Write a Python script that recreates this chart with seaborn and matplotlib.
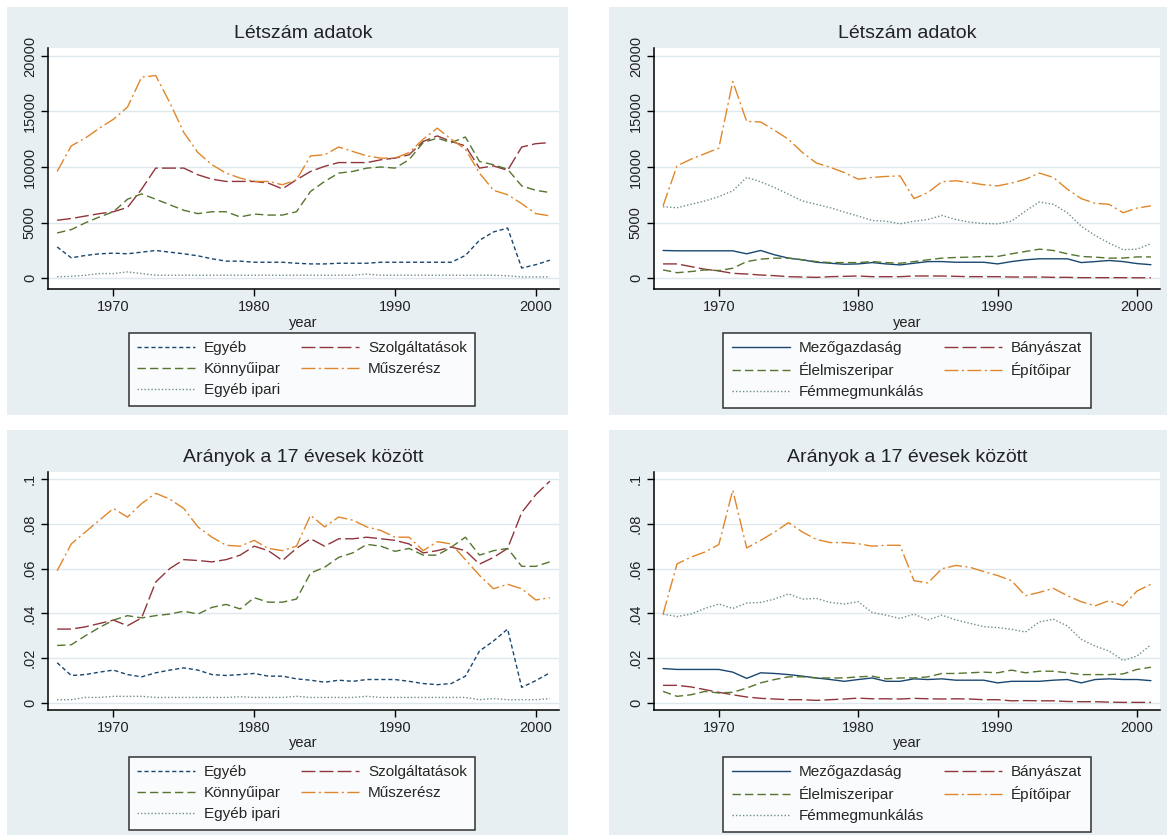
import matplotlib
matplotlib.use("Agg")
import matplotlib.pyplot as plt
import seaborn as sns
import pandas as pd
from matplotlib.lines import Line2D
from matplotlib.patches import Rectangle
from matplotlib import font_manager

# ---- data ----
years = list(range(1966, 2002))

names_left = ["Egyéb", "Szolgáltatások", "Könnyűipar", "Műszerész", "Egyéb ipari"]
names_right = ["Mezőgazdaság", "Bányászat", "Élelmiszeripar", "Építőipar", "Fémmegmunkálás"]

# headcounts, left group
egyeb_n = [2800, 1820, 2030, 2180, 2240, 2180, 2330, 2480, 2330, 2180,
           2000, 1730, 1520, 1520, 1420, 1420, 1420, 1330, 1270, 1270,
           1330, 1330, 1330, 1420, 1420, 1420, 1420, 1420, 1420, 2030,
           3400, 4150, 4500, 900, 1200, 1600]
szolg_n = [5200, 5360, 5580, 5800, 5970, 6360, 8000, 9900, 9900, 9900,
           9300, 8900, 8700, 8700, 8700, 8550, 8030, 8850, 9600, 10060,
           10400, 10400, 10400, 10650, 10800, 11100, 12300, 12800, 12300, 11900,
           9900, 10100, 9700, 11800, 12100, 12200]
konnyu_n = [4060, 4360, 4970, 5500, 5970, 7100, 7580, 7100, 6600, 6100,
            5800, 5970, 5970, 5500, 5760, 5670, 5670, 5970, 7800, 8700,
            9450, 9600, 9900, 10000, 9900, 10660, 12200, 12600, 12200, 12700,
            10500, 10200, 9800, 8300, 7900, 7700]
muszer_n = [9600, 11900, 12600, 13500, 14300, 15400, 18100, 18240, 15800, 13100,
            11300, 10200, 9450, 9000, 8700, 8700, 8400, 8850, 11000, 11100,
            11800, 11400, 11000, 10800, 10800, 11300, 12500, 13500, 12500, 11600,
            9450, 7900, 7500, 6700, 5800, 5600]
egyip_n = [120, 150, 250, 400, 400, 550, 400, 250, 250, 250,
           250, 250, 250, 250, 250, 250, 250, 250, 250, 250,
           250, 250, 350, 250, 250, 250, 250, 250, 250, 250,
           250, 250, 200, 100, 100, 100]

# headcounts, right group
mezo_n = [2480, 2450, 2450, 2450, 2450, 2450, 2180, 2480, 2090, 1790,
          1640, 1420, 1330, 1240, 1270, 1390, 1270, 1180, 1330, 1480,
          1480, 1420, 1420, 1420, 1270, 1480, 1640, 1730, 1730, 1730,
          1390, 1480, 1580, 1480, 1300, 1200]
banya_n = [1270, 1270, 1030, 790, 640, 420, 360, 270, 210, 120,
           90, 60, 120, 150, 180, 120, 120, 120, 180, 180,
           180, 150, 120, 120, 120, 90, 90, 90, 60, 60,
           30, 30, 30, 30, 20, 20]
elelm_n = [730, 480, 580, 730, 670, 880, 1480, 1700, 1790, 1790,
           1640, 1480, 1390, 1390, 1390, 1480, 1390, 1330, 1480, 1640,
           1790, 1850, 1880, 1940, 1940, 2180, 2390, 2600, 2480, 2180,
           1940, 1880, 1790, 1800, 1900, 1900]
epito_n = [6500, 10100, 10700, 11200, 11700, 17700, 14100, 14060, 13300, 12500,
           11300, 10360, 9970, 9500, 8900, 9060, 9150, 9200, 7150, 7700,
           8670, 8760, 8600, 8400, 8300, 8550, 8900, 9450, 9060, 8000,
           7150, 6730, 6640, 5880, 6300, 6500]
femm_n = [6420, 6330, 6640, 6940, 7330, 7850, 9060, 8670, 8150, 7540,
          6940, 6640, 6330, 5940, 5580, 5180, 5120, 4880, 5120, 5270,
          5640, 5270, 5030, 4910, 4880, 5120, 6030, 6850, 6640, 5880,
          4670, 3820, 3150, 2550, 2600, 3100]

# shares among 17-year-olds, left group
egyeb_s = [.018, .0123, .0127, .0138, .0147, .0127, .0117, .0135, .0147, .0157,
           .0147, .0127, .0123, .0127, .0132, .012, .012, .0108, .0102, .0093,
           .0102, .0097, .0105, .0105, .0105, .0097, .0087, .0082, .0087, .012,
           .0232, .0277, .033, .007, .010, .0135]
szolg_s = [.033, .033, .034, .0355, .037, .0345, .038, .054, .060, .064,
           .0636, .063, .064, .066, .070, .068, .0636, .069, .0733, .070,
           .0733, .0733, .074, .0733, .0726, .071, .067, .068, .0696, .068,
           .062, .065, .069, .085, .093, .099]
konnyu_s = [.0257, .026, .030, .0337, .037, .039, .038, .039, .0397, .041,
            .0397, .0427, .044, .042, .047, .045, .045, .0464, .058, .0606,
            .065, .067, .0708, .070, .0677, .069, .066, .066, .0696, .074,
            .066, .068, .069, .061, .061, .063]
muszer_s = [.059, .071, .0763, .0816, .0868, .083, .089, .0936, .091, .0868,
            .0786, .074, .0704, .070, .0726, .069, .068, .070, .0838, .0786,
            .083, .0816, .0786, .077, .074, .074, .068, .072, .071, .064,
            .057, .051, .053, .051, .046, .047]
egyip_s = [.0015, .0015, .0025, .0025, .003, .003, .003, .0025, .0025, .0025,
           .0025, .0025, .0025, .0028, .0025, .0025, .0025, .003, .0025, .0025,
           .0025, .0025, .003, .0025, .0025, .0025, .0025, .0025, .0025, .0025,
           .0015, .002, .0015, .0015, .0015, .002]

# shares, right group
mezo_s = [.0154, .015, .015, .015, .015, .0138, .011, .0135, .0132, .0127,
          .012, .0112, .0105, .0097, .0105, .0112, .0097, .0097, .0108, .0105,
          .0108, .0102, .0102, .0102, .009, .0097, .0097, .0097, .0102, .0105,
          .009, .0105, .0108, .0105, .0105, .010]
banya_s = [.0079, .0079, .0072, .006, .0048, .0037, .0027, .0021, .0018, .0015,
           .0015, .0012, .0015, .0018, .0022, .0019, .0019, .0018, .0021, .0019,
           .0018, .0019, .0018, .0015, .0015, .001, .0011, .001, .001, .0007,
           .0006, .0006, .0004, .0003, .0003, .0003]
elelm_s = [.0052, .003, .0037, .0052, .0045, .0048, .0067, .009, .0105, .0117,
           .0117, .0112, .0112, .0112, .0117, .012, .0108, .0112, .0112, .0117,
           .0132, .0132, .0135, .0138, .0135, .0147, .0135, .0142, .0142, .0135,
           .0127, .0127, .0127, .013, .015, .016]
epito_s = [.0397, .0621, .0651, .0674, .0707, .095, .0692, .0726, .0763, .0805,
           .0763, .073, .0716, .0716, .0711, .070, .0704, .0704, .0546, .0536,
           .0599, .0614, .0606, .0587, .0569, .0546, .0479, .0494, .0512, .0479,
           .0452, .0434, .0457, .0434, .050, .053]
femm_s = [.0397, .0386, .0397, .0422, .0442, .0422, .0446, .0449, .0464, .0487,
          .0464, .0467, .0449, .0442, .0452, .0404, .0392, .0377, .0397, .0371,
          .0392, .0371, .0356, .0341, .0337, .0329, .0317, .0362, .0374, .0344,
          .0284, .0254, .0232, .019, .021, .026]

title_n = "Létszám adatok"
title_s = "Arányok a 17 évesek között"
yticks_n = [0, 5000, 10000, 15000, 20000]
yticklabels_n = ["0", "5000", "10000", "15000", "20000"]
yticks_s = [0, .02, .04, .06, .08, .1]
yticklabels_s = ["0", ".02", ".04", ".06", ".08", ".1"]
xticks = [1970, 1980, 1990, 2000]

# ---- style (Stata s2color look) ----
sns.set_style("ticks")
avail = {f.name for f in font_manager.fontManager.ttflist}
base_font = "Liberation Sans" if "Liberation Sans" in avail else "DejaVu Sans"
narrow_font = "Liberation Sans Narrow" if "Liberation Sans Narrow" in avail else base_font
plt.rcParams["font.family"] = [base_font, "DejaVu Sans"]

palette = ["#1a476f", "#90353b", "#55752f", "#e0862a", "#6e8e84"]
dash_left = ["shortdash", "longdash", "dash", "longdashdot", "dot"]
dash_right = ["solid", "longdash", "dash", "longdashdot", "dot"]
dash_map = {
    "solid": "",
    "shortdash": (3, 2),
    "longdash": (10, 3),
    "dash": (6, 3),
    "longdashdot": (10, 2.5, 1.5, 2.5),
    "dot": (1, 1.5),
}
region_color = "#e8eff2"
grid_color = "#dfe8ec"

W, H = 1167, 839
fig = plt.figure(figsize=(W / 100, H / 100), dpi=100)
fig.patch.set_facecolor("white")


def px_axes(x0, y0, x1, y1):
    return fig.add_axes([x0 / W, 1 - y1 / H, (x1 - x0) / W, (y1 - y0) / H])


def panel(box, plot, names, series, dash_kinds, title, yticks, yticklabels, ylim, leg_center, leg_top):
    bx0, by0, bx1, by1 = box
    fig.add_artist(Rectangle((bx0 / W, 1 - by1 / H), (bx1 - bx0) / W, (by1 - by0) / H,
                             transform=fig.transFigure, facecolor=region_color,
                             edgecolor="none", zorder=-1))
    ax = px_axes(*plot)
    rows = []
    for name, vals in zip(names, series):
        for yr, v in zip(years, vals):
            rows.append((yr, v, name))
    df = pd.DataFrame(rows, columns=["year", "value", "series"])
    dashes = {n: dash_map[k] for n, k in zip(names, dash_kinds)}
    colors = dict(zip(names, palette))
    sns.lineplot(data=df, x="year", y="value", hue="series", style="series",
                 hue_order=names, style_order=names, palette=colors, dashes=dashes,
                 linewidth=1.0, legend=False, ax=ax)

    ax.set_facecolor("white")
    ax.set_xlim(1965.35, 2001.65)
    ax.set_ylim(*ylim)
    ax.set_xticks(xticks)
    ax.set_xticklabels([str(t) for t in xticks], fontfamily=narrow_font, fontsize=10.5)
    ax.set_yticks(yticks)
    ax.set_yticklabels(yticklabels, fontfamily=narrow_font, fontsize=10.5,
                       rotation=90, va="center")
    for y in yticks:
        ax.axhline(y, color=grid_color, lw=1.0, zorder=0)
    sns.despine(ax=ax, top=True, right=True)
    for s in ("left", "bottom"):
        ax.spines[s].set_color("black")
        ax.spines[s].set_linewidth(1.1)
    ax.tick_params(direction="out", length=5, width=1, colors="black", labelcolor="#222222", pad=3)
    ax.set_xlabel("year", fontfamily=narrow_font, fontsize=10.5, labelpad=1, color="#222222")
    ax.set_ylabel("")

    cx = (plot[0] + plot[2]) / 2
    fig.text(cx / W, 1 - (plot[1] - 15) / H, title, ha="center", va="center",
             fontsize=14, color="#222222")

    handles = [Line2D([], [], color=c, lw=1.0,
                      linestyle="-" if dash_map[k] == "" else (0, dash_map[k]))
               for c, k in zip(palette, dash_kinds)]
    order = [0, 2, 4, 1, 3]
    leg = fig.legend([handles[i] for i in order], [names[i] for i in order],
                     loc="upper center", bbox_to_anchor=(leg_center / W, 1 - leg_top / H),
                     bbox_transform=fig.transFigure, ncol=2, frameon=True, fancybox=False,
                     handlelength=3.8, handletextpad=0.6, columnspacing=1.3,
                     labelspacing=0.45, borderpad=0.55, borderaxespad=0,
                     prop={"family": narrow_font, "size": 11})
    leg.get_frame().set_edgecolor("black")
    leg.get_frame().set_linewidth(1.1)
    leg.get_frame().set_facecolor("white")
    return ax


ylim_n = (-990, 20720)
ylim_s = (-0.0031, 0.1031)

panel((7, 7, 568, 415), (48, 48, 559, 289), names_left,
      [egyeb_n, szolg_n, konnyu_n, muszer_n, egyip_n], dash_left,
      title_n, yticks_n, yticklabels_n, ylim_n, 302, 333)
panel((609, 7, 1167, 415), (654, 48, 1160, 289), names_right,
      [mezo_n, banya_n, elelm_n, epito_n, femm_n], dash_right,
      title_n, yticks_n, yticklabels_n, ylim_n, 907, 333)
panel((7, 430, 568, 835), (48, 472, 559, 710), names_left,
      [egyeb_s, szolg_s, konnyu_s, muszer_s, egyip_s], dash_left,
      title_s, yticks_s, yticklabels_s, ylim_s, 302, 757)
panel((609, 430, 1167, 835), (654, 472, 1160, 710), names_right,
      [mezo_s, banya_s, elelm_s, epito_s, femm_s], dash_right,
      title_s, yticks_s, yticklabels_s, ylim_s, 907, 757)

fig.savefig("out.png", dpi=100, facecolor="white")
